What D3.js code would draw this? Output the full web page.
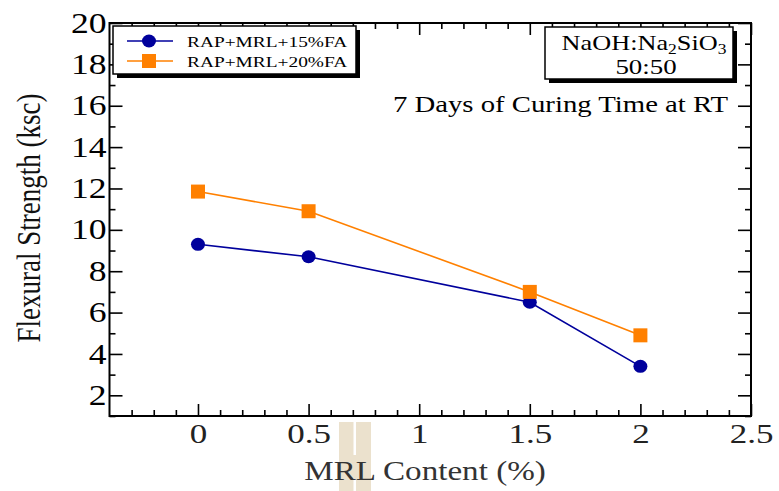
<!DOCTYPE html>
<html>
<head>
<meta charset="utf-8">
<script src="https://cdn.jsdelivr.net/npm/d3@7"></script>
<style>
  body { margin: 0; background: #fff; }
  svg { display: block; }
</style>
</head>
<body>
<div id="chart"></div>
<script>
// data
const mrlContent = [0, 0.5, 1.5, 2];
const fa15 = [9.3, 8.7, 6.5, 3.4];
const fa20 = [11.85, 10.9, 7.0, 4.9];
const seriesNames = ["RAP+MRL+15%FA", "RAP+MRL+20%FA"];
const xMajor = [0, 0.5, 1, 1.5, 2, 2.5];
const yMajor = [2, 4, 6, 8, 10, 12, 14, 16, 18, 20];

const W = 779, H = 491;
const plotL = 109.5, plotR = 751, plotT = 23, plotB = 416;
const serif = "'Liberation Serif', 'Times New Roman', Times, 'DejaVu Serif', serif";
const SX = 1.25; // text in the original is drawn a bit wide

const svg = d3.select("#chart").append("svg")
  .attr("width", W).attr("height", H);

const x = d3.scaleLinear().domain([-0.4, 2.5]).range([plotL, plotR]);
const y = d3.scaleLinear().domain([1, 20]).range([plotB, plotT]);

const xMinor = d3.range(-3, 25).map(d => d / 10).filter(d => d % 0.5 !== 0);
const yMinor = d3.range(1, 20, 2);

function label(px, py, str, size, anchor) {
  return svg.append("text")
    .attr("transform", `translate(${px},${py}) scale(${SX},1)`)
    .attr("text-anchor", anchor || "middle")
    .attr("font-size", size)
    .text(str);
}

// odd artifact under the x label
const art = svg.append("g").attr("fill", "#ebe1cd");
art.append("rect").attr("x", 339).attr("y", 422).attr("width", 14.5).attr("height", 69);
art.append("rect").attr("x", 356).attr("y", 422).attr("width", 15).attr("height", 69);
art.append("rect").attr("x", 353).attr("y", 455).attr("width", 3).attr("height", 24);

function styleAxis(g) {
  g.select(".domain").remove();
  g.selectAll(".tick line").attr("stroke", "#000").attr("stroke-width", 1.6);
}

// bottom
svg.append("g").attr("transform", `translate(0,${plotB})`)
  .call(d3.axisBottom(x).tickValues(xMajor).tickSize(-12).tickPadding(7).tickFormat(d3.format("")))
  .call(styleAxis)
  .call(g => g.selectAll("text").attr("font-size", 28).attr("fill", "#222")
    .attr("transform", `scale(${SX},1)`));
svg.append("g").attr("transform", `translate(0,${plotB})`)
  .call(d3.axisBottom(x).tickValues(xMinor).tickSize(-6).tickFormat(""))
  .call(styleAxis);
// top
svg.append("g").attr("transform", `translate(0,${plotT})`)
  .call(d3.axisTop(x).tickValues(xMajor).tickSize(-12).tickFormat(""))
  .call(styleAxis);
svg.append("g").attr("transform", `translate(0,${plotT})`)
  .call(d3.axisTop(x).tickValues(xMinor).tickSize(-6).tickFormat(""))
  .call(styleAxis);
// left
svg.append("g").attr("transform", `translate(${plotL},0)`)
  .call(d3.axisLeft(y).tickValues(yMajor).tickSize(-13).tickPadding(2.4))
  .call(styleAxis)
  .call(g => g.selectAll("text").attr("font-size", 28.5).attr("fill", "#000")
    .attr("transform", `scale(${SX},1)`));
svg.append("g").attr("transform", `translate(${plotL},0)`)
  .call(d3.axisLeft(y).tickValues(yMinor).tickSize(-6).tickFormat(""))
  .call(styleAxis);
// right
svg.append("g").attr("transform", `translate(${plotR},0)`)
  .call(d3.axisRight(y).tickValues(yMajor).tickSize(-13).tickFormat(""))
  .call(styleAxis);
svg.append("g").attr("transform", `translate(${plotR},0)`)
  .call(d3.axisRight(y).tickValues(yMinor).tickSize(-6).tickFormat(""))
  .call(styleAxis);

svg.append("rect")
  .attr("x", plotL).attr("y", plotT)
  .attr("width", plotR - plotL).attr("height", plotB - plotT)
  .attr("fill", "none").attr("stroke", "#000").attr("stroke-width", 2);

// axis titles
label(425, 480, "MRL Content (%)", 26.5).attr("fill", "#333");
svg.append("text")
  .attr("transform", `translate(40,218) scale(${SX},1) rotate(-90)`)
  .attr("text-anchor", "middle").attr("font-size", 27).attr("fill", "#111")
  .text("Flexural Strength (ksc)");

// series
const series = [
  { name: seriesNames[0], values: fa15, color: "#00009c", shape: "circle" },
  { name: seriesNames[1], values: fa20, color: "#ff8000", shape: "square" }
];
const line = d3.line().x((d, i) => x(mrlContent[i])).y(d => y(d));

function marker(g, shape, color, cx, cy) {
  if (shape === "circle") {
    g.append("ellipse").attr("cx", cx).attr("cy", cy).attr("rx", 7).attr("ry", 6.5).attr("fill", color);
  } else {
    g.append("rect").attr("x", cx - 7).attr("y", cy - 7).attr("width", 14).attr("height", 14).attr("fill", color);
  }
}

series.forEach(s => {
  svg.append("path").datum(s.values)
    .attr("d", line).attr("fill", "none")
    .attr("stroke", s.color).attr("stroke-width", 1.6);
  const g = svg.append("g");
  s.values.forEach((v, i) => marker(g, s.shape, s.color, x(mrlContent[i]), y(v)));
});

// legend
svg.append("rect").attr("x", 117).attr("y", 30).attr("width", 243).attr("height", 48).attr("fill", "#000");
svg.append("rect").attr("x", 113).attr("y", 26).attr("width", 243).attr("height", 48)
  .attr("fill", "#fff").attr("stroke", "#000").attr("stroke-width", 1.5);
series.forEach((s, i) => {
  const ly = 41 + i * 20;
  svg.append("line").attr("x1", 127).attr("x2", 173).attr("y1", ly).attr("y2", ly)
    .attr("stroke", s.color).attr("stroke-width", 1.5);
  marker(svg, s.shape, s.color, 149, ly);
  label(187, ly + 5.5, s.name, 15.5, "start");
});

// annotation box
svg.append("rect").attr("x", 549).attr("y", 31).attr("width", 188).attr("height", 52).attr("fill", "#000");
svg.append("rect").attr("x", 545).attr("y", 27).attr("width", 188).attr("height", 52)
  .attr("fill", "#fff").attr("stroke", "#000").attr("stroke-width", 1.5);
const t1 = label(644, 49.5, "", 21);
t1.append("tspan").text("NaOH:Na");
t1.append("tspan").attr("font-size", 14).attr("baseline-shift", "-4").text("2");
t1.append("tspan").text("SiO");
t1.append("tspan").attr("font-size", 14).attr("baseline-shift", "-4").text("3");
label(646, 73.5, "50:50", 21.5);

label(728, 112, "7 Days of Curing Time at RT", 23, "end");

svg.selectAll("text").style("font-family", serif);
</script>
</body>
</html>
